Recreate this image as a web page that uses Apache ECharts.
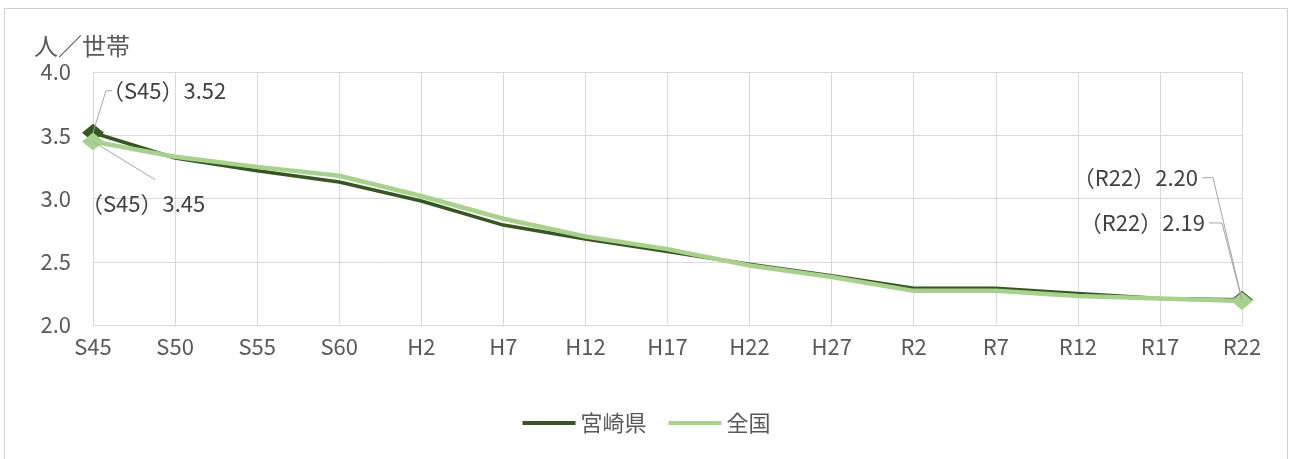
<!DOCTYPE html>
<html>
<head>
<meta charset="utf-8">
<script src="https://cdn.jsdelivr.net/npm/echarts@6/dist/echarts.min.js"></script>
<style>
  html, body { margin: 0; padding: 0; background: #ffffff; }
  #chart { width: 1293px; height: 459px; }
</style>
</head>
<body>
<div id="chart"></div>
<script>
// 平均世帯人員の推移（宮崎県・全国）
const categories = ['S45', 'S50', 'S55', 'S60', 'H2', 'H7', 'H12', 'H17', 'H22', 'H27', 'R2', 'R7', 'R12', 'R17', 'R22'];
const miyazaki = [3.52, 3.32, 3.22, 3.13, 2.98, 2.79, 2.68, 2.58, 2.48, 2.39, 2.29, 2.29, 2.25, 2.21, 2.20];
const national = [3.45, 3.33, 3.25, 3.18, 3.02, 2.84, 2.70, 2.60, 2.47, 2.38, 2.27, 2.27, 2.23, 2.21, 2.19];
const seriesNames = ['宮崎県', '全国'];
const yTicks = { min: 2.0, max: 4.0, interval: 0.5 };
const unitLabel = '人／世帯';

const DARK = '#375623';
const LIGHT = '#a9d18e';
const TEXT = '#595959';
const GRID = '#d9d9d9';
const FONT = '"Noto Sans CJK JP", "Noto Sans", sans-serif';

const last = categories.length - 1;
const endSymbol = (v, p) => (p.dataIndex === 0 || p.dataIndex === last) ? 'diamond' : 'none';

const chart = echarts.init(document.getElementById('chart'), null, { renderer: 'canvas' });

chart.setOption({
  animation: false,
  textStyle: { fontFamily: FONT },
  grid: { left: 93, right: 51, top: 72, bottom: 134, containLabel: false },
  legend: {
    bottom: 20,
    left: 'center',
    itemWidth: 53,
    itemHeight: 4,
    itemGap: 22,
    icon: 'rect',
    textStyle: { fontSize: 22, color: TEXT, fontFamily: FONT, padding: [0, 0, 0, 0] },
    data: seriesNames
  },
  xAxis: {
    type: 'category',
    data: categories,
    boundaryGap: false,
    axisLine: { show: true, lineStyle: { color: GRID, width: 1 } },
    axisTick: { show: false },
    axisLabel: { color: TEXT, fontSize: 22, margin: 11, fontFamily: FONT },
    splitLine: { show: true, lineStyle: { color: GRID, width: 1 } }
  },
  yAxis: {
    type: 'value',
    min: yTicks.min,
    max: yTicks.max,
    interval: yTicks.interval,
    axisLine: { show: false },
    axisTick: { show: false },
    axisLabel: {
      color: TEXT, fontSize: 22, margin: 22, fontFamily: FONT,
      formatter: v => v.toFixed(1)
    },
    splitLine: { show: true, lineStyle: { color: GRID, width: 1 } }
  },
  series: [
    {
      name: seriesNames[0],
      type: 'line',
      data: miyazaki,
      z: 3,
      symbol: endSymbol,
      symbolSize: [22, 18],
      showAllSymbol: true,
      lineStyle: { color: DARK, width: 3.5 },
      itemStyle: { color: DARK },
      emphasis: { disabled: true }
    },
    {
      name: seriesNames[1],
      type: 'line',
      data: national,
      z: 4,
      symbol: endSymbol,
      symbolSize: [22, 18],
      showAllSymbol: true,
      lineStyle: { color: LIGHT, width: 4.5 },
      itemStyle: { color: LIGHT },
      emphasis: { disabled: true }
    }
  ]
});

// データラベルと引出線（端点の位置は軸の座標変換から取得）
const px = (si, i, arr) => chart.convertToPixel({ seriesIndex: si }, [i, arr[i]]);
const fmt = (cat, v) => '（' + cat + '）' + v.toFixed(2);
const LEAD = '#a6a6a6';

const p0 = px(0, 0, miyazaki);
const p1 = px(1, 0, national);
const q0 = px(0, last, miyazaki);
const q1 = px(1, last, national);

const labelText = (x, y, text, align) => ({
  type: 'text', x, y, z: 20,
  style: { text, fill: '#404040', font: '22px ' + FONT, align, verticalAlign: 'middle' }
});
const leader = (points) => ({
  type: 'polyline', z: 19, silent: true,
  shape: { points },
  style: { stroke: LEAD, lineWidth: 1, fill: null }
});

chart.setOption({
  graphic: [
    // 外枠
    { type: 'rect', shape: { x: 4.5, y: 8.5, width: 1283, height: 470 }, style: { fill: null, stroke: '#d0d0d0', lineWidth: 1 }, z: 0, silent: true },
    // 単位
    { type: 'text', x: 34, y: 46, style: { text: unitLabel, fill: TEXT, font: '24px ' + FONT, verticalAlign: 'middle' } },
    // 宮崎県 S45
    leader([[p0[0], p0[1]], [p0[0] + 13, p0[1] - 42], [p0[0] + 19, p0[1] - 42]]),
    labelText(p0[0] + 9, p0[1] - 42, fmt(categories[0], miyazaki[0]), 'left'),
    // 全国 S45
    leader([[p1[0], p1[1]], [p1[0] + 62, p1[1] + 38]]),
    labelText(p1[0] - 12, p1[1] + 62, fmt(categories[0], national[0]), 'left'),
    // 宮崎県 R22
    leader([[q0[0] - 40, q0[1] - 122], [q0[0] - 29, q0[1] - 122], [q0[0], q0[1]]]),
    labelText(q0[0] - 44, q0[1] - 122, fmt(categories[last], miyazaki[last]), 'right'),
    // 全国 R22
    leader([[q1[0] - 33, q1[1] - 78], [q1[0] - 20, q1[1] - 78], [q1[0], q1[1]]]),
    labelText(q1[0] - 37, q1[1] - 78, fmt(categories[last], national[last]), 'right')
  ]
});
</script>
</body>
</html>
